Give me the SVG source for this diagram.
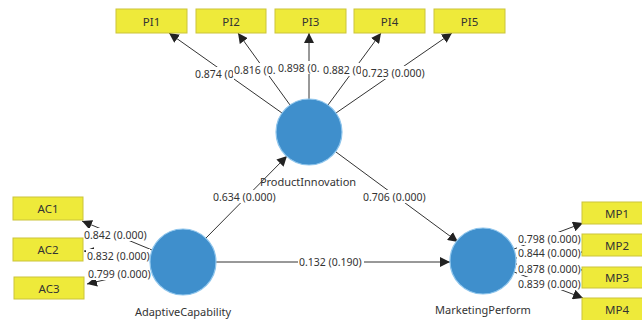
<svg xmlns="http://www.w3.org/2000/svg" width="642" height="320" viewBox="0 0 642 320">
<defs>
<marker id="ah" viewBox="0 0 10 10" refX="10" refY="5" markerWidth="10" markerHeight="10" markerUnits="userSpaceOnUse" orient="auto">
<path d="M0,0 L10,5 L0,10 z" fill="#222"/>
</marker>
<style>
.ind rect{fill:#eeea3a;stroke:#cbc43a;stroke-width:1}
.ind text{font-family:"Noto Sans","Open Sans",sans-serif;font-size:11.5px;fill:#333;text-anchor:middle;dominant-baseline:central}
.lv circle{fill:#3f8fcc;stroke:#8cc4ec;stroke-width:1.2}
.lv text{font-family:"Noto Sans","Open Sans",sans-serif;font-size:11px;fill:#333;text-anchor:middle;dominant-baseline:central}
.conn line{stroke:#333;stroke-width:1;marker-end:url(#ah)}
.lbl rect{fill:#fff}
.lbl text{font-family:"Noto Sans","Open Sans",sans-serif;font-size:10.5px;fill:#333;dominant-baseline:central}
</style>
</defs>
<rect width="642" height="320" fill="#fff"/>
<g id="connectors" class="conn">
<line x1="282" y1="113" x2="169" y2="33"/>
<line x1="290" y1="105" x2="238" y2="33"/>
<line x1="309" y1="99" x2="309" y2="33"/>
<line x1="328" y1="105" x2="381" y2="33"/>
<line x1="336" y1="113" x2="452" y2="33"/>
<line x1="152" y1="250" x2="82" y2="221"/>
<line x1="150" y1="258" x2="84" y2="251"/>
<line x1="151" y1="269" x2="87" y2="284"/>
<line x1="514" y1="249" x2="583" y2="223"/>
<line x1="516" y1="258" x2="582" y2="252"/>
<line x1="516" y1="264" x2="582" y2="270"/>
<line x1="514" y1="272" x2="583" y2="298"/>
<line x1="206" y1="238" x2="287" y2="156"/>
<line x1="336" y1="152" x2="458" y2="242"/>
<line x1="216" y1="262" x2="450" y2="262"/>
</g>
<g id="labels" class="lbl">
<rect x="194" y="67" width="40" height="13"/><text x="195" y="74">0.874 (0</text>
<rect x="233" y="63" width="44" height="13"/><text x="234" y="70">0.816 (0.</text>
<rect x="277" y="61" width="45" height="13"/><text x="278" y="68">0.898 (0.</text>
<rect x="322" y="63" width="40" height="13"/><text x="323" y="70">0.882 (0</text>
<rect x="361" y="66" width="66" height="13"/><text x="362" y="73">0.723 (0.000)</text>
<rect x="83" y="228" width="64" height="13"/><text x="84" y="235">0.842 (0.000)</text>
<rect x="86" y="249" width="64" height="13"/><text x="87" y="256">0.832 (0.000)</text>
<rect x="87" y="267" width="64" height="13"/><text x="88" y="274">0.799 (0.000)</text>
<rect x="517" y="232" width="64" height="13"/><text x="518" y="239">0.798 (0.000)</text>
<rect x="517" y="246" width="64" height="13"/><text x="518" y="253">0.844 (0.000)</text>
<rect x="517" y="262" width="64" height="13"/><text x="518" y="269">0.878 (0.000)</text>
<rect x="517" y="277" width="64" height="13"/><text x="518" y="284">0.839 (0.000)</text>
<rect x="212" y="190" width="66" height="13"/><text x="213" y="197">0.634 (0.000)</text>
<rect x="362" y="190" width="66" height="13"/><text x="363" y="197">0.706 (0.000)</text>
<rect x="298" y="255" width="66" height="13"/><text x="299" y="262">0.132 (0.190)</text>
</g>
<g id="PI1" class="ind"><rect x="116" y="9" width="71" height="24"/><text x="151.5" y="21">PI1</text></g>
<g id="PI2" class="ind"><rect x="196" y="9" width="70" height="24"/><text x="231" y="21">PI2</text></g>
<g id="PI3" class="ind"><rect x="275" y="9" width="71" height="24"/><text x="310.5" y="21">PI3</text></g>
<g id="PI4" class="ind"><rect x="354" y="9" width="71" height="24"/><text x="389.5" y="21">PI4</text></g>
<g id="PI5" class="ind"><rect x="434" y="9" width="71" height="24"/><text x="469.5" y="21">PI5</text></g>
<g id="AC1" class="ind"><rect x="13" y="197" width="70" height="23"/><text x="48" y="208.5">AC1</text></g>
<g id="AC2" class="ind"><rect x="13" y="238" width="70" height="23"/><text x="48" y="249.5">AC2</text></g>
<g id="AC3" class="ind"><rect x="14" y="277" width="70" height="22"/><text x="49" y="288">AC3</text></g>
<g id="MP1" class="ind"><rect x="582" y="202" width="70" height="22"/><text x="617" y="213">MP1</text></g>
<g id="MP2" class="ind"><rect x="582" y="234" width="70" height="22"/><text x="617" y="245">MP2</text></g>
<g id="MP3" class="ind"><rect x="582" y="267" width="70" height="21"/><text x="617" y="277.5">MP3</text></g>
<g id="MP4" class="ind"><rect x="582" y="298" width="70" height="24"/><text x="617" y="309">MP4</text></g>
<g id="ProductInnovation" class="lv"><circle cx="309" cy="132" r="33"/><text x="308" y="181">ProductInnovation</text></g>
<g id="AdaptiveCapability" class="lv"><circle cx="183" cy="262" r="33"/><text x="183" y="311">AdaptiveCapability</text></g>
<g id="MarketingPerform" class="lv"><circle cx="483" cy="261" r="33"/><text x="483" y="309">MarketingPerform</text></g>
</svg>
